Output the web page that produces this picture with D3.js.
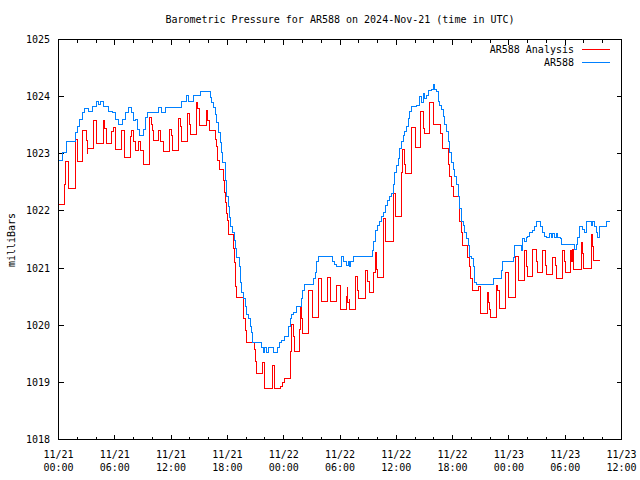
<!DOCTYPE html>
<html><head><meta charset="utf-8">
<script src="https://cdn.jsdelivr.net/npm/d3@7"></script>
<style>
body{margin:0;background:#fff}
svg{display:block}
text{font-family:"DejaVu Sans Mono","Liberation Mono",monospace;font-size:10px;fill:#000}
</style>
</head><body><svg id="c" width="640" height="480"></svg>
<script>
// ---- data (hours since 2024-11-21 00:00 UTC, pressure in mbar) ----
const blueTime = [0,0.39,0.82,1.81,1.99,2.23,2.52,2.80,3.22,3.59,4.04,4.29,4.47,4.82,5.32,5.71,6.06,6.41,6.78,7.13,7.48,7.73,7.95,8.19,8.44,8.65,9.01,9.26,9.44,10.67,11.03,11.38,13.16,13.69,13.86,14.39,15.18,16.17,16.35,16.52,16.70,16.88,17.05,17.23,17.34,17.48,17.84,17.95,18.12,18.22,18.37,18.54,18.72,18.83,19.01,19.29,19.36,19.54,19.71,19.89,20.07,20.24,20.43,20.53,20.67,21.67,21.81,21.91,22.13,22.34,22.90,23.33,23.54,23.80,24.04,24.52,24.68,24.79,25.03,25.32,25.85,26.03,26.20,27.16,27.34,27.52,27.69,29.18,29.41,29.65,30.11,30.32,30.71,30.88,30.99,31.17,31.41,33.48,33.62,33.80,33.97,34.18,34.44,34.68,34.86,35.07,35.32,35.50,35.67,35.85,36.03,36.20,36.38,36.56,36.73,36.91,37.10,37.27,37.45,37.63,38.16,38.51,38.69,38.86,39.04,39.22,39.39,39.76,39.93,40.11,40.29,40.46,40.64,40.82,40.99,41.17,41.35,41.52,41.70,41.88,42.05,42.23,42.41,42.59,42.77,42.95,43.12,43.30,43.48,43.65,43.83,44.01,44.18,44.36,44.52,46.41,47.20,47.37,48.44,48.62,49.33,49.50,49.68,49.86,50.03,50.21,50.56,50.74,50.99,51.38,51.63,51.81,51.99,52.34,52.52,52.69,52.87,53.05,53.22,53.51,53.58,55.00,55.18,55.35,55.53,55.88,56.06,56.24,56.77,56.95,57.13,57.31,57.48,57.66,58.44,58.72];
const blueValue = [1022.89,1023.02,1023.21,1023.37,1023.47,1023.60,1023.72,1023.79,1023.74,1023.82,1023.91,1023.86,1023.91,1023.82,1023.74,1023.72,1023.60,1023.51,1023.60,1023.72,1023.81,1023.72,1023.58,1023.60,1023.42,1023.32,1023.42,1023.63,1023.72,1023.81,1023.72,1023.81,1023.91,1024.02,1023.91,1024.02,1024.09,1023.98,1023.89,1023.81,1023.68,1023.54,1023.37,1023.19,1023.02,1022.84,1022.54,1022.25,1022.07,1021.89,1021.72,1021.63,1021.49,1021.35,1021.19,1021.02,1020.75,1020.58,1020.46,1020.33,1020.19,1020.11,1019.98,1019.88,1019.70,1019.61,1019.53,1019.61,1019.53,1019.61,1019.53,1019.61,1019.70,1019.74,1019.81,1019.98,1020.11,1020.19,1020.23,1020.32,1020.46,1020.60,1020.72,1020.81,1020.93,1021.11,1021.21,1021.12,1021.07,1021.02,1021.21,1021.12,1021.04,1021.12,1021.02,1021.12,1021.21,1021.30,1021.46,1021.65,1021.75,1021.82,1021.91,1021.98,1022.09,1022.18,1022.26,1022.30,1022.47,1022.68,1022.79,1022.91,1023.09,1023.21,1023.32,1023.39,1023.47,1023.61,1023.74,1023.82,1023.84,1024.00,1023.89,1024.05,1023.96,1024.02,1024.11,1024.12,1024.21,1024.12,1024.09,1023.91,1023.84,1023.77,1023.65,1023.51,1023.39,1023.21,1023.02,1022.84,1022.72,1022.61,1022.47,1022.26,1022.04,1021.82,1021.74,1021.63,1021.51,1021.39,1021.21,1021.16,1021.02,1020.75,1020.72,1020.81,1020.95,1021.12,1021.19,1021.39,1021.30,1021.51,1021.46,1021.54,1021.56,1021.63,1021.65,1021.72,1021.82,1021.72,1021.63,1021.56,1021.54,1021.60,1021.54,1021.60,1021.54,1021.60,1021.54,1021.51,1021.42,1021.33,1021.42,1021.54,1021.72,1021.68,1021.63,1021.81,1021.74,1021.81,1021.72,1021.63,1021.53,1021.72,1021.81,1021.81];

const redTime = [0,0.59,0.74,1.10,1.81,2.05,2.59,2.95,3.05,3.12,3.69,4.04,4.82,4.93,5.11,5.64,5.88,6.06,6.70,7.02,7.66,7.77,8.03,8.19,8.54,8.72,9.07,9.71,9.89,9.97,10.14,10.67,10.85,11.14,11.78,12.02,12.13,12.80,12.98,13.09,13.80,13.94,14.04,14.68,14.84,15.00,15.74,15.90,16.06,16.70,16.81,16.99,17.16,17.59,17.69,17.77,17.87,18.01,18.12,18.65,18.76,18.83,19.01,19.71,19.95,20.07,20.85,20.96,21.06,21.78,21.99,22.77,23.01,23.62,23.83,24.04,24.68,24.79,25.03,25.14,25.64,25.74,25.90,25.99,26.63,27.05,27.73,27.98,28.69,28.94,29.65,30.00,30.67,30.77,30.85,30.99,31.06,31.60,31.88,32.02,32.77,32.90,33.12,33.62,33.80,33.90,34.01,34.61,34.89,35.67,35.96,36.56,36.67,36.91,37.02,37.63,38.05,38.62,38.86,39.04,39.57,40.00,40.74,40.93,41.52,41.70,41.88,42.05,42.77,42.95,43.05,43.58,43.75,43.94,44.07,44.71,44.97,45.67,45.80,45.88,46.03,46.67,46.81,46.95,47.63,47.98,48.69,48.97,49.07,49.61,49.86,49.97,50.56,50.92,51.03,51.63,51.91,52.05,52.63,52.98,53.05,53.69,53.94,54.04,54.57,54.68,54.76,54.93,55.71,55.85,55.99,56.77,56.88,57.02,57.66];
const redValue = [1022.11,1022.47,1022.86,1022.39,1023.25,1022.86,1023.40,1023.23,1023.00,1023.09,1023.58,1023.18,1023.58,1023.44,1023.18,1023.39,1023.46,1023.07,1023.40,1022.93,1023.30,1023.40,1023.21,1023.05,1023.21,1023.05,1022.81,1023.63,1023.51,1023.40,1023.23,1023.40,1023.21,1023.04,1023.42,1023.32,1023.05,1023.61,1023.47,1023.21,1023.70,1023.51,1023.33,1023.89,1023.79,1023.49,1023.75,1023.58,1023.40,1023.25,1023.12,1022.89,1022.72,1022.54,1022.32,1022.14,1021.96,1021.84,1021.58,1021.35,1021.09,1020.67,1020.49,1020.11,1019.91,1019.70,1019.58,1019.37,1019.16,1019.35,1018.89,1019.30,1018.89,1018.93,1019.00,1019.07,1019.54,1020.02,1019.81,1019.54,1019.93,1020.32,1020.11,1019.86,1020.60,1020.14,1020.81,1020.42,1020.84,1020.42,1020.70,1020.28,1020.51,1020.67,1020.40,1020.46,1020.28,1020.86,1020.60,1020.47,1020.95,1020.77,1020.58,1020.93,1021.28,1020.98,1020.84,1021.86,1021.46,1022.30,1021.91,1022.68,1023.07,1022.81,1022.65,1023.46,1023.11,1023.74,1023.44,1023.35,1023.89,1023.51,1023.35,1023.09,1022.82,1022.60,1022.42,1022.25,1021.82,1021.63,1021.39,1021.19,1021.02,1020.81,1020.60,1020.67,1020.21,1020.58,1020.40,1020.28,1020.14,1020.70,1020.60,1020.30,1020.93,1020.49,1021.21,1021.02,1020.79,1021.30,1021.02,1020.86,1021.32,1021.12,1020.93,1021.30,1021.05,1020.88,1021.19,1021.04,1020.82,1021.30,1021.12,1020.93,1021.30,1021.12,1021.33,1020.98,1021.44,1021.25,1021.00,1021.58,1021.37,1021.14,1021.14];

const yTicks = [1018,1019,1020,1021,1022,1023,1024,1025];
const seriesNames = ["AR588 Analysis","AR588"];
const seriesColors = ["#ff0000","#0080ff"];
const titleText = "Barometric Pressure for AR588 on 2024-Nov-21 (time in UTC)";
const yLabelText = "milliBars";

// ---- layout ----
const L = 58.5, R = 621.5, T = 39.5, B = 439.5;
const start = Date.UTC(2024,10,21,0,0);
const toDate = h => new Date(start + h*3600000);

const x = d3.scaleUtc().domain([toDate(0), toDate(60)]).range([L, R]);
const y = d3.scaleLinear().domain([1018,1025]).range([B, T]);
const px = v => Math.round(v - 0.5) + 0.5;

const svg = d3.select("#c");
svg.append("rect").attr("width",640).attr("height",480).attr("fill","#fff");

// ticks
const g = svg.append("g").attr("stroke","#000").attr("stroke-width",1).attr("shape-rendering","crispEdges");
const major = d3.utcHour.every(6).range(toDate(0), toDate(60.01));
const minor = d3.utcHour.every(2).range(toDate(0), toDate(60.01)).filter(d => d.getUTCHours() % 6 !== 0);
major.forEach(d => {
  const xx = px(x(d));
  g.append("line").attr("x1",xx).attr("x2",xx).attr("y1",B).attr("y2",B-5);
  g.append("line").attr("x1",xx).attr("x2",xx).attr("y1",T).attr("y2",T+5);
});
minor.forEach(d => {
  const xx = px(x(d));
  g.append("line").attr("x1",xx).attr("x2",xx).attr("y1",B).attr("y2",B-3);
  g.append("line").attr("x1",xx).attr("x2",xx).attr("y1",T).attr("y2",T+3);
});
yTicks.forEach(v => {
  const yy = px(y(v));
  g.append("line").attr("x1",L).attr("x2",L+5).attr("y1",yy).attr("y2",yy);
  g.append("line").attr("x1",R).attr("x2",R-5).attr("y1",yy).attr("y2",yy);
});

// tick labels
yTicks.forEach(v => {
  svg.append("text").attr("x",50).attr("y",y(v)+3.5).attr("text-anchor","end").text(v);
});
const fmtD = d3.utcFormat("%m/%d"), fmtT = d3.utcFormat("%H:%M");
major.forEach(d => {
  svg.append("text").attr("x",x(d)).attr("y",458).attr("text-anchor","middle").text(fmtD(d));
  svg.append("text").attr("x",x(d)).attr("y",471).attr("text-anchor","middle").text(fmtT(d));
});

// title & y label
svg.append("text").attr("x",(L+R)/2).attr("y",23).attr("text-anchor","middle").text(titleText);
svg.append("text").attr("transform","translate(15,240) rotate(-90)").attr("text-anchor","middle").text(yLabelText);

// series
const line = d3.line().curve(d3.curveStepAfter).x(d => px(x(toDate(d[0])))).y(d => px(y(d[1])));
const redData = redTime.map((t,i) => [t, redValue[i]]);
const blueData = blueTime.map((t,i) => [t, blueValue[i]]);
svg.append("path").datum(redData).attr("d",line).attr("fill","none").attr("stroke",seriesColors[0]).attr("stroke-width",1).attr("shape-rendering","crispEdges");
svg.append("path").datum(blueData).attr("d",line).attr("fill","none").attr("stroke",seriesColors[1]).attr("stroke-width",1).attr("shape-rendering","crispEdges");

// frame
svg.append("rect").attr("x",L).attr("y",T).attr("width",R-L).attr("height",B-T)
  .attr("fill","none").attr("stroke","#000").attr("stroke-width",1).attr("shape-rendering","crispEdges");

// legend
seriesNames.forEach((n,i) => {
  const yy = 49.5 + i*13;
  svg.append("text").attr("x",574).attr("y",yy+3.5).attr("text-anchor","end").text(n);
  svg.append("line").attr("x1",582).attr("x2",610).attr("y1",yy).attr("y2",yy)
    .attr("stroke",seriesColors[i]).attr("stroke-width",1).attr("shape-rendering","crispEdges");
});
</script>
</body></html>
